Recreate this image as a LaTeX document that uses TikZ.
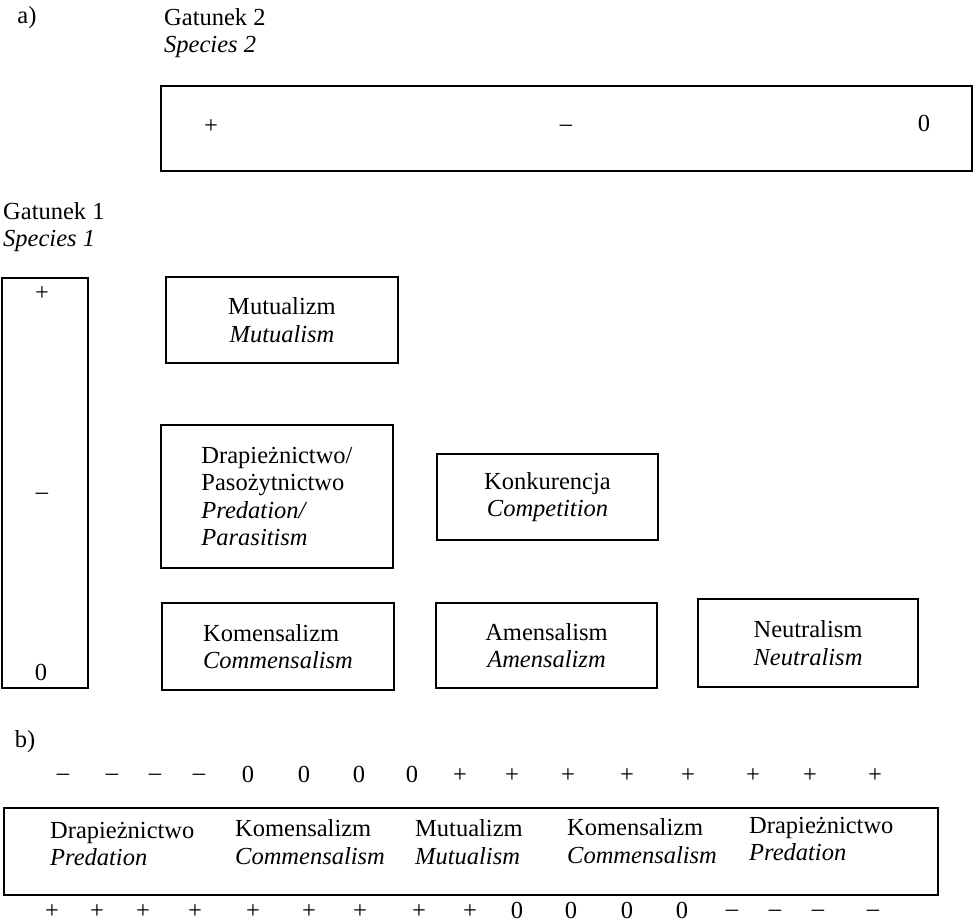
\documentclass[tikz,border=0pt]{standalone}
\usepackage{fontspec}
\setmainfont{Liberation Serif}
\begin{document}
\begin{tikzpicture}[x=1pt,y=-1pt,
  every node/.style={font=\fontsize{24.5}{27.5}\selectfont, inner sep=0pt},
  box/.style={draw, line width=1.3pt, rectangle, align=center},
  lbox/.style={draw, line width=1.3pt, rectangle, align=left},
  lbl/.style={align=left, anchor=west},
  sgn/.style={anchor=base, yshift=-7pt},
  dsgn/.style={anchor=base, yshift=-5.5pt}]
\useasboundingbox (0,0) rectangle (973,923);
% part a
\node (a) at (27,18) {a)};
\node[lbl] (g2) at (164,33) {Gatunek 2\\\textit{Species 2}};
\node[box, minimum width=811pt, minimum height=85pt] (topbox) at (566.5,128.5) {};
\node[sgn] (tp) at (211,126) {+};
\node[dsgn] (tm) at (566,126) {–};
\node[sgn] (tz) at (924,124) {0};
\node[lbl] (g1) at (3,227) {Gatunek 1\\\textit{Species 1}};
\node[box, minimum width=86pt, minimum height=410pt] (leftbox) at (45,483) {};
\node[sgn] (lp) at (42,293) {+};
\node[dsgn] (lm) at (42,494) {–};
\node[sgn] (lz) at (41,673) {0};
\node[box, minimum width=232pt, minimum height=86pt] (mut) at (282,320) {Mutualizm\\\textit{Mutualism}};
\node[lbox, minimum width=232pt, minimum height=143pt] (drap) at (277,496.5) {Drapieżnictwo/\\Pasożytnictwo\\\textit{Predation/}\\\textit{Parasitism}};
\node[box, minimum width=221pt, minimum height=86pt] (konk) at (547.5,497) {Konkurencja\\\textit{Competition}};
\node[lbox, minimum width=232pt, minimum height=87pt] (kom) at (278,646.5) {Komensalizm\\\textit{Commensalism}};
\node[box, minimum width=221pt, minimum height=85pt] (amen) at (546.5,645.5) {Amensalism\\\textit{Amensalizm}};
\node[box, minimum width=220pt, minimum height=88pt] (neut) at (808,643) {Neutralism\\\textit{Neutralism}};
% part b
\node (b) at (25,742) {b)};
\foreach \x [count=\i] in {63,112,155,199}
  \node[dsgn] (u\i) at (\x,775) {–};
\foreach \x [count=\i] in {248,304,359,412}
  \node[sgn] (uz\i) at (\x,775) {0};
\foreach \x [count=\i] in {460,512,568,627,688,753,810,875}
  \node[sgn] (up\i) at (\x,775) {+};
\node[box, minimum width=934pt, minimum height=87pt] (bbox) at (471,851.5) {};
\node[lbl] (b1) at (50,844) {Drapieżnictwo\\\textit{Predation}};
\node[lbl] (b2) at (235,842) {Komensalizm\\\textit{Commensalism}};
\node[lbl] (b3) at (415,842) {Mutualizm\\\textit{Mutualism}};
\node[lbl] (b4) at (567,841) {Komensalizm\\\textit{Commensalism}};
\node[lbl] (b5) at (749,839) {Drapieżnictwo\\\textit{Predation}};
\foreach \x [count=\i] in {52,97,143,195,253,309,360,419,470}
  \node[sgn] (dp\i) at (\x,911) {+};
\foreach \x [count=\i] in {517,571,627,682}
  \node[sgn] (dz\i) at (\x,911) {0};
\foreach \x [count=\i] in {732,775,818,873}
  \node[dsgn] (dm\i) at (\x,911) {–};
\end{tikzpicture}
\end{document}
